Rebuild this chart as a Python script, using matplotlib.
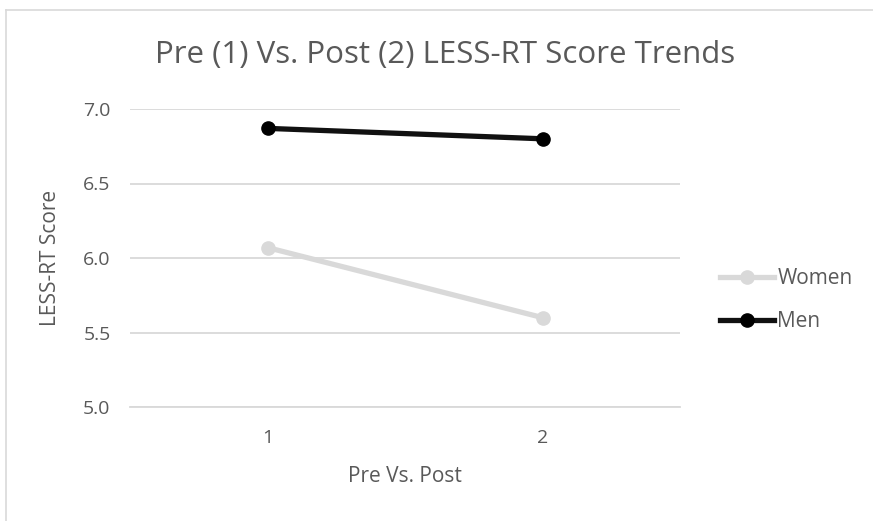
import matplotlib.pyplot as plt
from matplotlib.lines import Line2D

plt.rcParams['font.family'] = ['Open Sans', 'DejaVu Sans']

phases = [1, 2]
tick_labels = ["1", "2"]
women = [6.07, 5.60]
men = [6.87, 6.80]

text_col = '#595959'
grid_col = '#d9d9d9'

fig = plt.figure(figsize=(8.73, 5.21), dpi=100)
# plot area: x 130..680 px, y 109..407 px
ax = fig.add_axes([130 / 873, 1 - 407 / 521, 550 / 873, 298 / 521])

ax.plot(phases, women, color='#d9d9d9', lw=3.8, marker='o', ms=9.5, label='Women')
ax.plot(phases, men, color='#111111', lw=3.8, marker='o', ms=9.5, label='Men',
        markerfacecolor='black', markeredgecolor='black')

ax.set_xlim(0.5, 2.5)
ax.set_ylim(5.0, 7.0)
yt = [5.0, 5.5, 6.0, 6.5, 7.0]
ax.set_yticks(yt)
ax.set_yticklabels([f"{v:.1f}" for v in yt])
ax.set_xticks(phases)
ax.set_xticklabels(tick_labels)
ax.grid(axis='y', color=grid_col, lw=1.3)
ax.set_axisbelow(True)
for s in ['top', 'right', 'left']:
    ax.spines[s].set_visible(False)
ax.spines['bottom'].set_color(grid_col)
ax.spines['bottom'].set_linewidth(1.3)
ax.tick_params(length=0, colors=text_col, labelsize=14)
ax.tick_params(axis='y', pad=14)
ax.tick_params(axis='x', pad=16)

ax.set_xlabel('Pre Vs. Post', color=text_col, fontsize=15)
ax.xaxis.set_label_coords(0.5, (407 - 477) / 298)
ax.xaxis.label.set_va('center')
ax.set_ylabel('LESS-RT Score', color=text_col, fontsize=15)
ax.yaxis.set_label_coords((50 - 130) / 550, 0.5)
ax.yaxis.label.set_va('center')

fig.text(445 / 873, 1 - 55 / 521, 'Pre (1) Vs. Post (2) LESS-RT Score Trends',
         ha='center', va='center', fontsize=22.5, color=text_col)

ax.legend(loc='center left', bbox_to_anchor=((720 - 130) / 550, (407 - 300) / 298),
          frameon=False, borderpad=0, borderaxespad=0, fontsize=15,
          labelcolor=text_col, handlelength=2.6, handletextpad=0.15,
          labelspacing=1.05, markerscale=1.0)

# chart border (left and top edges visible)
fig.add_artist(Line2D([6 / 873, 6 / 873], [0, 1 - 10 / 521], transform=fig.transFigure,
                      color=grid_col, lw=1.2))
fig.add_artist(Line2D([6 / 873, 1], [1 - 10 / 521, 1 - 10 / 521], transform=fig.transFigure,
                      color=grid_col, lw=1.2))

fig.savefig('out.png', dpi=100, facecolor='white')
